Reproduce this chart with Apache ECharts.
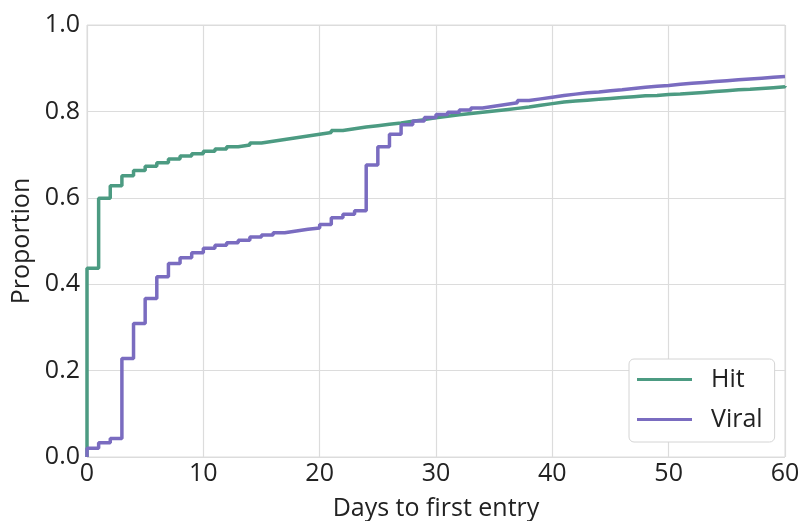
<!DOCTYPE html>
<html>
<head>
<meta charset="utf-8">
<script src="https://cdn.jsdelivr.net/npm/echarts@6/dist/echarts.min.js"></script>
<style>
  html, body { margin: 0; padding: 0; background: #fff; }
  #chart { width: 801px; height: 521px; }
</style>
</head>
<body>
<div id="chart"></div>
<script>
// days 0..60, cumulative proportion
const days = Array.from({length: 61}, (_, i) => i)

const hit = [
  0.437, 0.599, 0.628, 0.651, 0.663, 0.673, 0.681, 0.690, 0.697, 0.702,
  0.708, 0.713, 0.718, 0.722, 0.727, 0.731, 0.735, 0.739, 0.743, 0.747,
  0.751, 0.756, 0.760, 0.764, 0.767, 0.770, 0.773, 0.777, 0.781, 0.785,
  0.789, 0.792, 0.795, 0.798, 0.801, 0.804, 0.807, 0.810, 0.814, 0.818,
  0.822, 0.824, 0.826, 0.828, 0.830, 0.832, 0.834, 0.836, 0.837, 0.839,
  0.840, 0.842, 0.844, 0.846, 0.848, 0.850, 0.851, 0.853, 0.855, 0.857,
  0.859
]

const viral = [
  0.020, 0.033, 0.043, 0.228, 0.309, 0.367, 0.417, 0.448, 0.461, 0.473,
  0.483, 0.490, 0.496, 0.502, 0.509, 0.514, 0.519, 0.523, 0.527, 0.530,
  0.538, 0.554, 0.562, 0.570, 0.676, 0.718, 0.747, 0.769, 0.778, 0.786,
  0.793, 0.798, 0.803, 0.808, 0.812, 0.816, 0.820, 0.825, 0.829, 0.833,
  0.837, 0.840, 0.843, 0.845, 0.848, 0.850, 0.853, 0.856, 0.858, 0.860,
  0.863, 0.865, 0.867, 0.869, 0.871, 0.873, 0.875, 0.877, 0.879, 0.881,
  0.882
]

const seriesNames = ['Hit', 'Viral']
const colors = ['#4c9b82', '#7a6cc0']

// step curve starts from zero at day 0
const toPoints = vals => [[0, 0]].concat(days.map((d, i) => [d, vals[i]]))

const font = 'Open Sans'
const fs = 25
const gridColor = '#dcdcdc'

let chart = echarts.init(document.getElementById('chart'))
chart.setOption({
  animation: false,
  textStyle: { fontFamily: font },
  grid: {
    left: 87, right: 16, top: 25, bottom: 64,
    outerBoundsMode: 'none',
    show: true, borderColor: gridColor, borderWidth: 1
  },
  xAxis: {
    type: 'value', min: 0, max: 60, interval: 10,
    name: 'Days to first entry', nameLocation: 'middle', nameGap: 39,
    nameTextStyle: { fontSize: fs, color: '#222', fontFamily: font },
    axisLine: { show: false },
    axisTick: { show: false },
    axisLabel: { fontSize: fs, color: '#222', margin: 4, fontFamily: font },
    splitLine: { lineStyle: { color: gridColor, width: 1.2 } }
  },
  yAxis: {
    type: 'value', min: 0, max: 1, interval: 0.2,
    name: 'Proportion', nameLocation: 'middle', nameGap: 46, nameRotate: 90,
    nameTextStyle: { fontSize: fs, color: '#222', fontFamily: font },
    axisLine: { show: false },
    axisTick: { show: false },
    axisLabel: { fontSize: fs, color: '#222', margin: 7, fontFamily: font,
      formatter: v => v.toFixed(1) },
    splitLine: { lineStyle: { color: gridColor, width: 1.2 } }
  },
  legend: {
    data: seriesNames,
    orient: 'vertical',
    left: 629, top: 359,
    backgroundColor: '#fff',
    borderColor: '#d4d4d4', borderWidth: 1, borderRadius: 5,
    padding: [8, 12, 10, 8],
    itemGap: 15,
    itemWidth: 55, itemHeight: 3,
    icon: 'rect',
    textStyle: { fontSize: fs, color: '#222', fontFamily: font, padding: [0, 0, 0, 14] }
  },
  series: [
    {
      name: seriesNames[0], type: 'line', step: 'end', showSymbol: false,
      color: colors[0], lineStyle: { width: 3.5, color: colors[0] },
      data: toPoints(hit)
    },
    {
      name: seriesNames[1], type: 'line', step: 'end', showSymbol: false,
      color: colors[1], lineStyle: { width: 3.5, color: colors[1] },
      data: toPoints(viral)
    }
  ]
})
</script>
</body>
</html>
